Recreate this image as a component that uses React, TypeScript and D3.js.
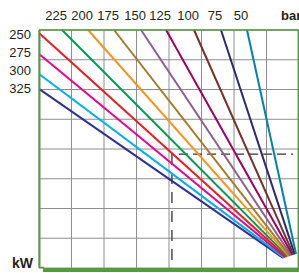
import React from 'react';
import * as d3 from 'd3';

// pressure curves (bar), ordered from the lowest-left curve to the steepest one
const pressures = [325, 300, 275, 250, 225, 200, 175, 150, 125, 100, 75, 50];
const lineColors = [
  '#2e3192', '#00aeef', '#ec008c', '#ed1c24', '#009a4e', '#f7941d',
  '#a47b2c', '#8b5e8f', '#9e005d', '#76302a', '#2b2a6b', '#0083a9',
];
// start and end of each curve, in grid units (x: columns 0..8, y: rows 0..8 from bottom)
const startX = [0, 0, 0, 0, 0.71, 1.51, 2.31, 3.14, 3.91, 4.77, 5.6, 6.4];
const startY = [6.02, 6.52, 7.19, 7.9, 8, 8, 8, 8, 8, 8, 8, 8];
const endX = [7.51, 7.54, 7.58, 7.62, 7.65, 7.69, 7.72, 7.76, 7.8, 7.83, 7.87, 7.91];
const endY = [0.34, 0.35, 0.36, 0.37, 0.39, 0.4, 0.41, 0.42, 0.44, 0.45, 0.46, 0.47];

const leftLabels = ['250', '275', '300', '325'];
const topLabels = ['225', '200', '175', '150', '125', '100', '75', '50'];

// reading example (dashed guides)
const readX = 4.09;
const readY = 3.83;
const readEndX = 7.82;

const gridCols = d3.range(0, 9);
const gridRows = d3.range(0, 9);

const App: React.FC = () => {
  const width = 299;
  const height = 273;
  const margin = { top: 30, right: 0, bottom: 5, left: 39 };

  const x = d3.scaleLinear().domain([0, 8]).range([margin.left, width - margin.right]);
  const y = d3.scaleLinear().domain([0, 8]).range([height - margin.bottom, margin.top]);

  const line = d3.line<[number, number]>()
    .x(d => x(d[0]))
    .y(d => y(d[1]));

  const leftScale = d3.scalePoint<string>().domain(leftLabels).range([39, 93]);
  const green = '#559a3f';
  const font = '"Liberation Sans", Arial, sans-serif';

  return (
    <svg width={width} height={height}
      style={{ position: 'absolute', left: 0, top: 0, background: '#fff' }}>
      {/* grid */}
      <g stroke="#8e8e8e" strokeWidth={1}>
        {gridCols.map(c => (
          <line key={'c' + c} x1={x(c)} x2={x(c)} y1={y(8)} y2={y(0)} />
        ))}
        {gridRows.map(r => (
          <line key={'r' + r} x1={x(0)} x2={x(8)} y1={y(r)} y2={y(r)} />
        ))}
      </g>

      {/* dashed reading guides */}
      <g stroke="#333" strokeWidth={1.3} fill="none">
        <path d={line([[readX + 0.22, readY], [readEndX, readY]]) || ''} strokeDasharray="9,5" />
        <path d={line([[readX, readY], [readX, 0]]) || ''} strokeDasharray="11,8" />
      </g>

      {/* pressure curves */}
      <g fill="none" strokeWidth={2}>
        {pressures.map((p, i) => (
          <path key={p} stroke={lineColors[i]}
            d={line([[startX[i], startY[i]], [endX[i], endY[i]]]) || ''} />
        ))}
      </g>

      {/* frame */}
      <g fill="none" stroke={green}>
        <line x1={x(0)} x2={x(8) - 0.5} y1={y(8)} y2={y(8)} strokeWidth={1.5} />
        <line x1={x(8) - 0.7} x2={x(8) - 0.7} y1={y(8)} y2={y(0)} strokeWidth={1.5} />
        <line x1={x(0) + 0.5} x2={x(0) + 0.5} y1={y(8)} y2={y(0)} strokeWidth={2} />
        <line x1={x(0)} x2={x(0) + 5} y1={y(0) - 0.5} y2={y(0) - 0.5} strokeWidth={1.5} />
        <line x1={x(0) + 4} x2={width} y1={y(0) + 2} y2={y(0) + 2} strokeWidth={4} />
      </g>

      {/* labels */}
      <g fontFamily={font} fontSize={13} fill="#231f20">
        {leftLabels.map(l => (
          <text key={l} x={31} y={leftScale(l)} textAnchor="end">{l}</text>
        ))}
        {topLabels.map((l, i) => (
          <text key={l} x={x(startX[i + 4]) - 6} y={20} textAnchor="middle">{l}</text>
        ))}
        <text x={281} y={20} fontWeight="bold">bar</text>
        <text x={12} y={268} fontWeight="bold" fontSize={14}>kW</text>
      </g>
    </svg>
  );
};

export default App;
